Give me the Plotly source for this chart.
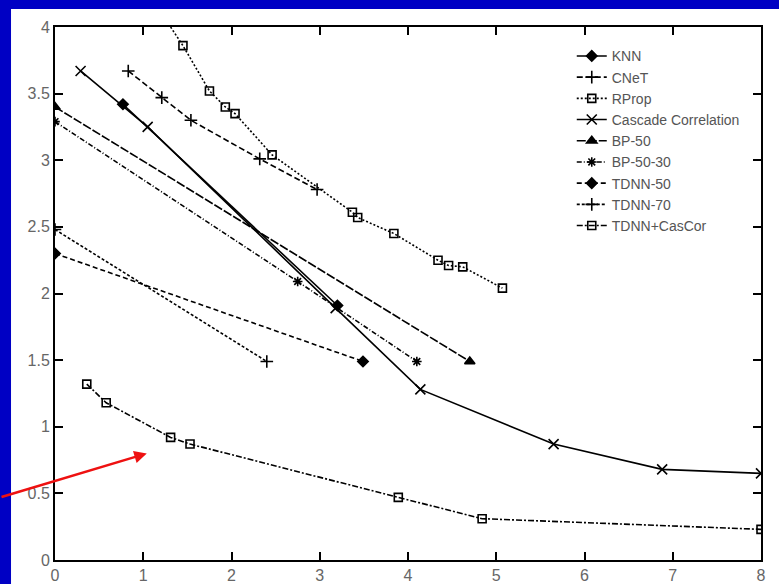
import plotly.graph_objects as go

# values
knn_x = [0.77, 3.20]
knn_y = [3.42, 1.91]

cnet_x = [0.83, 1.21, 1.54, 2.32, 2.97]
cnet_y = [3.67, 3.47, 3.30, 3.01, 2.78]

rprop_x = [1.26, 1.45, 1.75, 1.93, 2.04, 2.46, 3.37, 3.43, 3.84, 4.34, 4.46, 4.62, 5.07]
rprop_y = [4.05, 3.86, 3.52, 3.40, 3.35, 3.04, 2.61, 2.57, 2.45, 2.25, 2.21, 2.20, 2.04]

cascor_x = [0.29, 1.05, 3.18, 4.14, 5.65, 6.88, 8.0]
cascor_y = [3.67, 3.25, 1.89, 1.28, 0.87, 0.68, 0.65]

bp50_x = [0.0, 4.70]
bp50_y = [3.40, 1.49]

bp5030_x = [0.0, 2.75, 4.10]
bp5030_y = [3.29, 2.09, 1.49]

tdnn50_x = [0.0, 3.49]
tdnn50_y = [2.30, 1.49]

tdnn70_x = [0.0, 2.40]
tdnn70_y = [2.48, 1.49]

tdnncc_x = [0.36, 0.58, 1.31, 1.53, 3.89, 4.84, 8.0]
tdnncc_y = [1.32, 1.18, 0.92, 0.87, 0.47, 0.31, 0.23]

x_ticks = [0, 1, 2, 3, 4, 5, 6, 7, 8]
y_ticks = [0, 0.5, 1, 1.5, 2, 2.5, 3, 3.5, 4]
y_labels = ['0', '0.5', '1', '1.5', '2', '2.5', '3', '3.5', '4']

series = [
    ('KNN', knn_x, knn_y, 'solid', 'diamond', 8),
    ('CNeT', cnet_x, cnet_y, '6px,3px', 'cross-thin-open', 9),
    ('RProp', rprop_x, rprop_y, '2px,2px', 'square-open', 8),
    ('Cascade Correlation', cascor_x, cascor_y, 'solid', 'x-thin-open', 10),
    ('BP-50', bp50_x, bp50_y, '9px,2px', 'triangle-up', 9),
    ('BP-50-30', bp5030_x, bp5030_y, '5px,2px,1px,2px', 'asterisk-open', 8),
    ('TDNN-50', tdnn50_x, tdnn50_y, '5px,3px', 'diamond', 8),
    ('TDNN-70', tdnn70_x, tdnn70_y, '3px,2px', 'cross-thin-open', 9),
    ('TDNN+CasCor', tdnncc_x, tdnncc_y, '6px,2px,2px,2px', 'square-open', 8),
]

fig = go.Figure()

for name, xs, ys, dash, symbol, size in series:
    fig.add_trace(go.Scatter(
        x=xs, y=ys, name=name,
        mode='lines+markers',
        line=dict(color='black', width=1.6, dash=dash),
        marker=dict(symbol=symbol, size=size, color='black',
                    line=dict(color='black', width=1.6))
    ))

# white slide area inside the blue frame (open to the right and bottom)
fig.add_shape(type='rect', xref='paper', yref='paper',
              x0=-0.0623, x1=1.2, y0=-0.2, y1=1.0338,
              fillcolor='white', line_width=0, layer='below')

# red arrow pointing at the lower curve
fig.add_annotation(x=1.04, y=0.80, ax=-150, ay=44,
                   axref='pixel', ayref='pixel',
                   showarrow=True, arrowhead=2, arrowsize=1,
                   arrowwidth=2.5, arrowcolor='#ee1111', text='')

axis_style = dict(
    showline=True, linecolor='black', linewidth=2, mirror='ticks',
    ticks='inside', ticklen=8, tickwidth=2, tickcolor='black',
    showgrid=False, zeroline=False, automargin=False,
    tickfont=dict(family='Liberation Sans, Arial', size=16, color='#666666')
)

fig.update_xaxes(range=[0, 8], tickvals=x_ticks, **axis_style)
fig.update_yaxes(range=[0, 4], tickvals=y_ticks, ticktext=y_labels, **axis_style)

fig.update_layout(
    width=779, height=584,
    margin=dict(l=55, r=18, t=27, b=24),
    paper_bgcolor='#0000c4',
    plot_bgcolor='white',
    legend=dict(
        x=0.977, y=0.975, xanchor='right', yanchor='top',
        bgcolor='rgba(0,0,0,0)',
        font=dict(family='Liberation Sans, Arial', size=14, color='#555555'),
        tracegroupgap=0, itemwidth=30
    )
)

fig.write_html('out.html', config={'displayModeBar': False},
               post_script="document.body.style.margin='0';")
